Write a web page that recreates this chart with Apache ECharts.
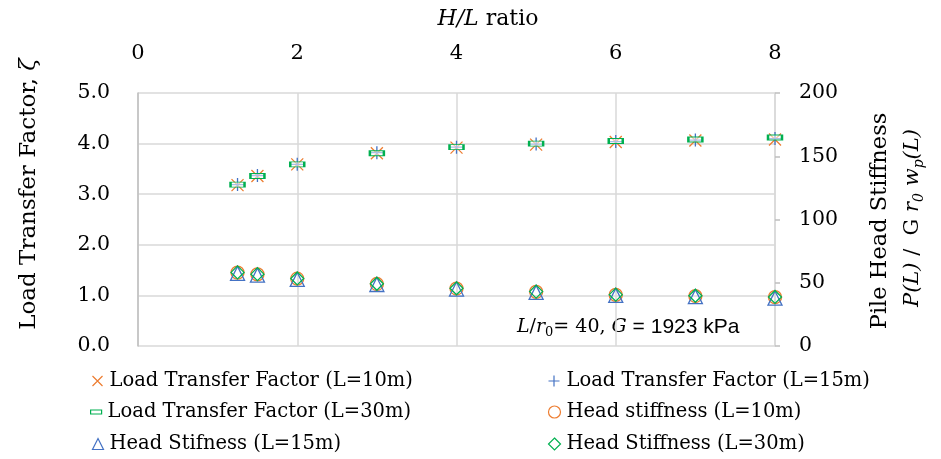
<!DOCTYPE html>
<html>
<head>
<meta charset="utf-8">
<script src="https://cdn.jsdelivr.net/npm/echarts@6/dist/echarts.min.js"></script>
<style>
  html, body { margin: 0; padding: 0; background: #fff; }
  #chart { width: 941px; height: 459px; }
</style>
</head>
<body>
<div id="chart"></div>
<script>
// H/L ratio sampled for every pile length
const hlRatio = [1.25, 1.5, 2, 3, 4, 5, 6, 7, 8];

// Load transfer factor, zeta (left axis)
const ltfL10 = [3.18, 3.36, 3.59, 3.81, 3.92, 3.98, 4.03, 4.06, 4.08];
const ltfL15 = [3.19, 3.37, 3.59, 3.82, 3.93, 3.99, 4.04, 4.07, 4.10];
const ltfL30 = [3.19, 3.36, 3.59, 3.81, 3.93, 4.00, 4.05, 4.08, 4.12];

// Normalised pile head stiffness P(L) / G r0 wp(L) (right axis)
const hsL10 = [58.0, 56.6, 53.2, 49.0, 45.4, 42.8, 40.4, 39.5, 38.6];
const hsL15 = [57.4, 56.0, 52.6, 48.6, 45.0, 42.4, 40.0, 39.0, 37.8];
const hsL30 = [58.2, 56.8, 53.4, 49.2, 45.6, 43.0, 40.6, 39.7, 38.8];

// Axis tick values
const xTicks = [0, 2, 4, 6, 8];
const leftTicks = [0, 1, 2, 3, 4, 5];
const rightTicks = [0, 50, 100, 150, 200];

// Series names as shown in the legend
const names = [
  'Load Transfer Factor (L=10m)',
  'Load Transfer Factor (L=15m)',
  'Load Transfer Factor (L=30m)',
  'Head stiffness (L=10m)',
  'Head Stifness (L=15m)',
  'Head Stiffness (L=30m)'
];

const ORANGE = '#ED7D31', BLUE = '#4472C4', GREEN = '#00B050';
const SERIF = 'DejaVu Serif';
const GRID = '#d9d9d9', AXIS = '#bfbfbf';

const zip = (xs, ys) => xs.map((x, i) => [x, ys[i]]);
const step = t => t[1] - t[0];

const markers = [
  { data: ltfL10, axis: 0, color: ORANGE, symbol: 'path://M0,0L10,10M10,0L0,10', size: 12, fill: 'none', bw: 1.3 },
  { data: ltfL15, axis: 0, color: BLUE,   symbol: 'path://M5,0L5,10M0,5L10,5',   size: 13, fill: 'none', bw: 1.3 },
  { data: ltfL30, axis: 0, color: GREEN,  symbol: 'rect', size: [14, 5], fill: 'rgba(255,255,255,0.55)', bw: 1.5 },
  { data: hsL10,  axis: 1, color: ORANGE, symbol: 'circle',   size: 13, fill: 'none', bw: 1.3 },
  { data: hsL15,  axis: 1, color: BLUE,   symbol: 'triangle', size: 14, fill: 'none', bw: 1.3 },
  { data: hsL30,  axis: 1, color: GREEN,  symbol: 'diamond',  size: 13, fill: 'none', bw: 1.3 }
];

const series = markers.map((m, i) => ({
  name: names[i],
  type: 'scatter',
  yAxisIndex: m.axis,
  data: zip(hlRatio, m.data),
  symbol: m.symbol,
  symbolSize: m.size,
  itemStyle: { color: m.fill, borderColor: m.color, borderWidth: m.bw, opacity: 1 },
  emphasis: { disabled: true },
  z: 3 + i
}));

// One single-item legend per slot, laid out as a two-column table;
// textX is where each label starts
const legendSlots = [
  { left: 90,  top: 371, textX: 110 },
  { left: 546, top: 371, textX: 567 },
  { left: 90,  top: 402, textX: 110 },
  { left: 546, top: 402, textX: 567 },
  { left: 90,  top: 434, textX: 110 },
  { left: 546, top: 434, textX: 567 }
];
const legendIcons = [
  { icon: 'path://M0,0L10,10M10,0L0,10', w: 10, h: 10 },
  { icon: 'path://M5,0L5,10M0,5L10,5',   w: 11, h: 11 },
  { icon: 'rect', w: 11, h: 4 },
  { icon: 'circle', w: 12, h: 12 },
  { icon: 'triangle', w: 11, h: 11 },
  { icon: 'diamond', w: 12, h: 12 }
];
// glyph side bearing of the label font at this size
const TEXT_BEARING = 3;
const legends = legendSlots.map((s, i) => ({
  left: s.left,
  top: s.top,
  padding: 0,
  itemWidth: legendIcons[i].w,
  itemHeight: legendIcons[i].h,
  selectedMode: false,
  data: [{
    name: names[i],
    icon: legendIcons[i].icon,
    itemStyle: {
      color: markers[i].fill,
      borderColor: markers[i].color,
      borderWidth: 1.2
    }
  }],
  textStyle: {
    fontFamily: SERIF, fontSize: 19.5, color: '#000',
    padding: [0, 0, 0, Math.max(0, s.textX - TEXT_BEARING - (s.left + legendIcons[i].w + 5))]
  }
}));

const chart = echarts.init(document.getElementById('chart'));
chart.setOption({
  animation: false,
  backgroundColor: '#fff',
  grid: { left: 138, right: 166, top: 93, bottom: 113, containLabel: false },
  xAxis: {
    type: 'value',
    position: 'top',
    min: xTicks[0],
    max: xTicks[xTicks.length - 1],
    interval: step(xTicks),
    axisLine: { show: false },
    axisTick: { show: false },
    axisLabel: { margin: 29, fontFamily: SERIF, fontSize: 21, color: '#000' },
    splitLine: { show: true, lineStyle: { color: GRID, width: 1.5 } }
  },
  yAxis: [
    {
      type: 'value',
      position: 'left',
      min: leftTicks[0],
      max: leftTicks[leftTicks.length - 1],
      interval: step(leftTicks),
      axisLine: { show: true, lineStyle: { color: AXIS, width: 1.5 } },
      axisTick: { show: false },
      axisLabel: {
        margin: 28, fontFamily: SERIF, fontSize: 20.5, color: '#000',
        formatter: v => v.toFixed(1)
      },
      splitLine: { show: true, lineStyle: { color: GRID, width: 1.5 } }
    },
    {
      type: 'value',
      position: 'right',
      min: rightTicks[0],
      max: rightTicks[rightTicks.length - 1],
      interval: step(rightTicks),
      axisLine: { show: true, lineStyle: { color: GRID, width: 1.5 } },
      axisTick: { show: true, length: 5, lineStyle: { color: AXIS, width: 1.5 } },
      axisLabel: { margin: 24, fontFamily: SERIF, fontSize: 20.5, color: '#000' },
      splitLine: { show: false }
    }
  ],
  legend: legends,
  series: series,
  graphic: [
    {
      type: 'text', x: 488, y: 19,
      style: {
        text: '{i|H/L} ratio',
        fontFamily: SERIF, fontSize: 22, fill: '#000',
        align: 'center', verticalAlign: 'middle',
        rich: { i: { fontFamily: SERIF, fontSize: 22, fontStyle: 'italic' } }
      }
    },
    {
      type: 'text', x: 29, y: 194, rotation: Math.PI / 2,
      style: {
        text: 'Load Transfer Factor, {i|ζ}',
        fontFamily: SERIF, fontSize: 23, fill: '#000',
        align: 'center', verticalAlign: 'middle',
        rich: { i: { fontFamily: SERIF, fontSize: 23, fontStyle: 'italic' } }
      }
    },
    {
      type: 'text', x: 880, y: 221, rotation: Math.PI / 2,
      style: {
        text: 'Pile Head Stiffness',
        fontFamily: SERIF, fontSize: 22.5, fill: '#000',
        align: 'center', verticalAlign: 'middle'
      }
    },
    {
      type: 'text', x: 913, y: 218, rotation: Math.PI / 2,
      style: {
        text: '{i|P(L)}{n| /  G }{i|r}{s|0}{n| }{i|w}{s|p}{i|(L)}',
        fill: '#000',
        align: 'center', verticalAlign: 'middle',
        rich: {
          i: { fontFamily: SERIF, fontSize: 21, fontStyle: 'italic', lineHeight: 26 },
          n: { fontFamily: SERIF, fontSize: 21, lineHeight: 26 },
          s: { fontFamily: SERIF, fontSize: 14, fontStyle: 'italic', lineHeight: 14, verticalAlign: 'bottom' }
        }
      }
    },
    {
      type: 'text', x: 517, y: 327,
      style: {
        text: '{i|L}{n|/}{i|r}{s|0}{n|= 40, }{i|G}{a| = 1923 kPa}',
        fill: '#000',
        align: 'left', verticalAlign: 'middle',
        rich: {
          i: { fontFamily: SERIF, fontSize: 19, fontStyle: 'italic', lineHeight: 24 },
          n: { fontFamily: SERIF, fontSize: 19, lineHeight: 24 },
          s: { fontFamily: SERIF, fontSize: 13, lineHeight: 13, verticalAlign: 'bottom' },
          a: { fontFamily: 'Liberation Sans', fontSize: 21, lineHeight: 24 }
        }
      }
    }
  ]
});
</script>
</body>
</html>
